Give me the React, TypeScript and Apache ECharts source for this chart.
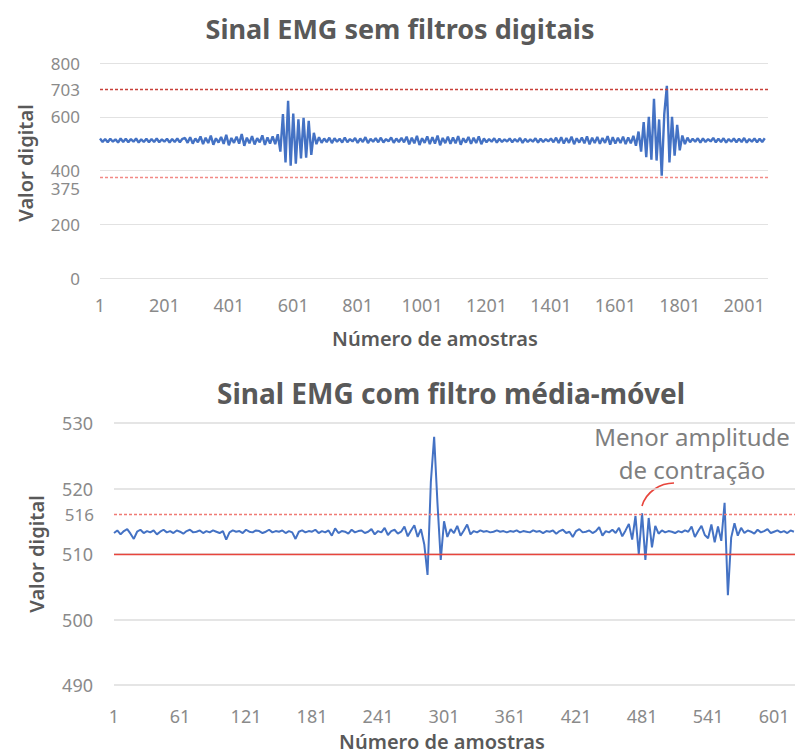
import React, { useEffect, useRef } from "react";
import * as echarts from "echarts";

// ---------- DATA ----------
// Raw EMG (no digital filter): one value every rawStep samples, starting at sample 1
const rawStep = 8;
const rawValues = [
  519, 506, 517, 505, 518, 507, 516, 504, 519, 506, 518, 505, 517, 507, 519, 504, 516, 506, 518, 505, 517, 506, 519, 505, 516, 507, 518, 504, 517, 506, 519, 505, 518,
  521, 503, 524, 500, 519, 505, 527, 498, 522, 502, 530, 496, 520, 504, 525, 499, 533, 494, 521, 503, 526, 500, 536, 492, 522, 501, 528, 497, 520, 505, 531, 495, 523, 500, 527, 498,
  535, 470, 610, 430, 659, 418, 612, 425, 590, 445, 596, 448, 585, 458, 540,
  498, 524, 503, 519, 506, 522, 502, 520, 507, 518, 504, 523, 505, 517, 508, 521, 503, 519, 506, 524, 502, 518, 507, 520, 505, 522, 504, 517, 508, 523, 503, 519, 506, 521, 505,
  526, 497, 522, 501, 529, 495, 520, 503, 527, 498, 524, 500, 530, 494, 521, 502, 526, 499, 523, 501, 528, 496, 520, 504, 525, 499, 522, 502, 527, 498,
  519, 505, 517, 507, 520, 504, 518, 506, 516, 508, 519, 505, 517, 507, 521, 503, 518, 506, 516, 507, 520, 504, 518, 506, 517, 508, 519, 505, 522,
  502, 524, 500, 521, 503, 526, 498, 520, 504, 523, 501, 527, 497, 522, 502, 525, 499, 521, 503, 528, 496, 524, 500, 522, 502, 526, 498, 523, 501, 529, 492,
  545, 470, 580, 450, 600, 440, 667, 437, 590, 381, 611, 715, 430, 600, 455, 570, 475, 530,
  498, 522, 505, 518, 507, 520, 504, 519, 506, 517, 508, 521, 505, 518, 506, 520, 504, 517, 507, 519, 505, 518, 506, 521, 504, 517, 507, 519, 505, 518, 506, 520,
];

// Moving-average filtered EMG: one value every filtStep samples, starting at sample 1
const filtStep = 3;
const filtValues = [
  513.2, 513.6, 513.0, 513.5, 513.8, 513.1, 512.3, 513.4, 513.7, 513.2, 513.5, 513.3, 513.6, 513.0, 513.4, 513.7, 513.3, 513.5, 513.2, 513.6, 513.4, 513.1, 513.5, 513.7, 513.3, 513.4, 513.6, 513.2, 513.5, 513.3,
  513.6, 513.4, 513.2, 513.5, 512.2, 513.3, 513.6, 513.4, 513.5, 513.2, 513.7, 513.4, 513.3, 513.6, 513.5, 513.2, 513.4, 513.7, 513.3, 513.5, 513.4, 513.6, 513.2, 513.5, 513.3, 512.3, 513.4, 513.6, 513.3, 513.5,
  513.4, 513.7, 513.2, 513.5, 513.3, 513.6, 512.8, 513.9, 513.2, 513.5, 513.4, 513.1, 513.7, 513.3, 513.5, 513.6, 513.2, 513.4, 513.8, 513.0, 513.5, 513.3, 514.0, 512.9, 513.5, 513.7, 513.1, 513.4, 514.2, 512.7,
  513.6, 514.4, 512.6, 513.8, 511.5, 506.8, 521.0, 527.9, 517.8, 509.1, 515.0, 512.6,
  513.8, 513.2, 514.3, 512.8, 513.6, 514.5, 513.0, 513.5, 513.3, 513.6, 513.4, 513.5, 513.3, 513.4, 513.6, 513.4, 513.5, 513.3, 513.5, 513.4, 513.6, 513.3, 513.5, 513.4, 513.3, 513.6, 513.4, 513.5, 513.2, 513.5,
  513.4, 513.6, 513.1, 513.5, 513.7, 513.2, 513.4, 512.6, 513.5, 513.8, 513.3, 513.4, 513.6, 513.2, 513.5, 514.1, 512.8, 513.5, 513.3, 513.7, 513.2, 514.0, 512.7, 513.6, 514.6,
  512.2, 515.8, 510.0, 516.2, 509.1, 515.5, 511.0, 514.3,
  513.1, 513.6, 513.3, 513.5, 513.4, 513.2, 513.5, 513.3, 513.6, 513.4, 514.2, 512.6, 513.5, 514.3, 512.9,
  512.4, 514.5, 511.8, 514.2, 512.0, 517.8, 503.7, 512.5, 514.7, 512.8, 514.0,
  513.2, 513.6, 513.4, 513.1, 513.7, 513.3, 513.5, 513.8, 513.2, 513.4, 513.6, 513.3, 513.5, 513.2, 513.6, 513.4,
];

const rawLimits = [703, 375];
const filtLimits = [516, 510];

const rawYAxis = { min: 0, max: 800, interval: 200 };
const filtYAxis = { min: 490, max: 530, interval: 10 };
const rawXAxis = { min: 0, max: 2074, interval: 200 }; // axis value = sample - 1
const filtXAxis = { min: 0, max: 619, interval: 60 };

const titles = ["Sinal EMG sem filtros digitais", "Sinal EMG com filtro média-móvel"];
const yName = "Valor digital";
const xName = "Número de amostras";
const noteLines = ["Menor amplitude", "de contração"];

// ---------- STYLE ----------
const FONT = "Noto Sans";
const BLUE = "#4472C4";
const TICK = "#8A8A8A";
const DARK = "#595959";
const GRID = "#E2E2E2";

const rawData = rawValues.map((v, i) => [i * rawStep, v]);
const filtData = filtValues.map((v, i) => [i * filtStep, v]);

export default function App() {
  const ref = useRef<HTMLDivElement>(null);
  useEffect(() => {
    if (!ref.current) return;
    const chart = echarts.init(ref.current, null, { renderer: "svg" });
    const axisLabel = (margin: number, size: number) => ({
      color: TICK,
      fontSize: size,
      fontFamily: FONT,
      margin,
    });
    const xLab = (margin: number) => ({
      ...axisLabel(margin, 18),
      formatter: (v: number) => String(v + 1),
      showMaxLabel: false,
    });
    const limitLine = (value: number, showLabel: boolean, color: string, dash: any, vAlign: string, lh: number) => ({
      yAxis: value,
      lineStyle: { color, type: dash, width: 1.3, opacity: 1 },
      label: {
        show: showLabel,
        position: "start",
        distance: 20,
        color: TICK,
        fontSize: 17,
        lineHeight: lh,
        fontFamily: FONT,
        verticalAlign: vAlign,
        formatter: String(value),
      },
    });
    chart.setOption({
      animation: false,
      backgroundColor: "#ffffff",
      grid: [
        { left: 100, top: 63, width: 668, height: 215 },
        { left: 114, top: 423, width: 681, height: 262 },
      ],
      xAxis: [
        {
          type: "value",
          gridIndex: 0,
          ...rawXAxis,
          axisLine: { show: false },
          axisTick: { show: false },
          splitLine: { show: false },
          axisLabel: xLab(18),
        },
        {
          type: "value",
          gridIndex: 1,
          ...filtXAxis,
          axisLine: { show: false },
          axisTick: { show: false },
          splitLine: { show: false },
          axisLabel: xLab(22),
        },
      ],
      yAxis: [
        {
          type: "value",
          gridIndex: 0,
          ...rawYAxis,
          axisLine: { show: false },
          axisTick: { show: false },
          splitLine: { lineStyle: { color: GRID } },
          axisLabel: axisLabel(20, 17),
        },
        {
          type: "value",
          gridIndex: 1,
          ...filtYAxis,
          axisLine: { show: false },
          axisTick: { show: false },
          splitLine: { lineStyle: { color: "#DCDCDC", width: 1.5 } },
          axisLabel: axisLabel(21, 18),
        },
      ],
      series: [
        {
          type: "line",
          xAxisIndex: 0,
          yAxisIndex: 0,
          data: rawData,
          showSymbol: false,
          lineStyle: { color: BLUE, width: 2.4 },
          z: 3,
          markLine: {
            silent: true,
            symbol: ["none", "none"],
            lineStyle: { color: "#D0433C", type: [3, 2] },
            data: [
              limitLine(rawLimits[0], true, "#C8403A", [3, 2], "middle", 20),
              limitLine(rawLimits[1], true, "#F28A86", [3, 2], "top", 22),
            ],
          },
        },
        {
          type: "line",
          xAxisIndex: 1,
          yAxisIndex: 1,
          data: filtData,
          showSymbol: false,
          lineStyle: { color: BLUE, width: 2 },
          z: 3,
          markLine: {
            silent: true,
            symbol: ["none", "none"],
            lineStyle: { color: "#E8453C", type: [3, 2] },
            data: [
              limitLine(filtLimits[0], true, "#F07A74", [3, 2], "middle", 20),
              limitLine(filtLimits[1], false, "#E8453C", "solid", "middle", 20),
            ],
          },
        },
      ],
      graphic: [
        {
          type: "text",
          x: 400,
          y: 28,
          style: { text: titles[0], fontSize: 27, fontWeight: "bold", fontFamily: FONT, fill: DARK, textAlign: "center", textVerticalAlign: "middle" },
        },
        {
          type: "text",
          x: 451,
          y: 393,
          style: { text: titles[1], fontSize: 28, fontWeight: "bold", fontFamily: FONT, fill: DARK, textAlign: "center", textVerticalAlign: "middle" },
        },
        {
          type: "text",
          x: 25,
          y: 163,
          rotation: Math.PI / 2,
          style: { text: yName, fontSize: 20, fontWeight: 600, fontFamily: FONT, fill: DARK, textAlign: "center", textVerticalAlign: "middle" },
        },
        {
          type: "text",
          x: 36,
          y: 554,
          rotation: Math.PI / 2,
          style: { text: yName, fontSize: 20, fontWeight: 600, fontFamily: FONT, fill: DARK, textAlign: "center", textVerticalAlign: "middle" },
        },
        {
          type: "text",
          x: 435,
          y: 338,
          style: { text: xName, fontSize: 20, fontWeight: 600, fontFamily: FONT, fill: DARK, textAlign: "center", textVerticalAlign: "middle" },
        },
        {
          type: "text",
          x: 442,
          y: 741,
          style: { text: xName, fontSize: 20, fontWeight: 600, fontFamily: FONT, fill: DARK, textAlign: "center", textVerticalAlign: "middle" },
        },
        {
          type: "text",
          x: 692,
          y: 436,
          style: { text: noteLines[0], fontSize: 24, fontFamily: FONT, fill: "#7F7F7F", textAlign: "center", textVerticalAlign: "middle" },
        },
        {
          type: "text",
          x: 692,
          y: 469,
          style: { text: noteLines[1], fontSize: 24, fontFamily: FONT, fill: "#7F7F7F", textAlign: "center", textVerticalAlign: "middle" },
        },
        {
          type: "bezierCurve",
          shape: { x1: 674, y1: 483, cpx1: 660, cpy1: 483, cpx2: 646, cpy2: 492, x2: 642, y2: 506 },
          style: { stroke: "#E8453C", lineWidth: 1.6, fill: "none" },
        },
      ],
    });
    return () => chart.dispose();
  }, []);
  return (
    <div
      ref={ref}
      style={{ position: "absolute", left: 0, top: 0, width: 795, height: 753, background: "#fff" }}
    />
  );
}
